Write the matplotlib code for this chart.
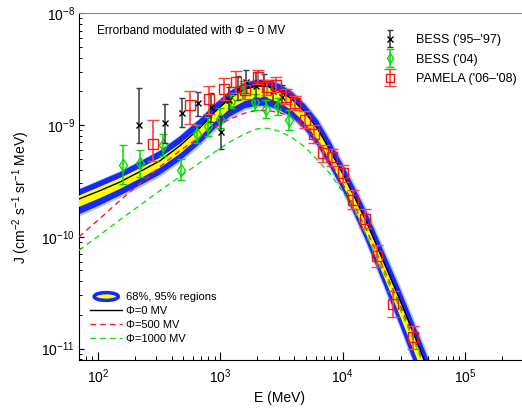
import matplotlib
matplotlib.use("Agg")
import matplotlib.pyplot as plt
from matplotlib.patches import Ellipse
from matplotlib.lines import Line2D
from matplotlib.ticker import NullFormatter
from matplotlib.legend_handler import HandlerPatch, HandlerErrorbar
from matplotlib.container import ErrorbarContainer

plt.rcParams['font.family'] = ['Liberation Sans', 'DejaVu Sans']
plt.rcParams['mathtext.default'] = 'regular'

# model curves
E_model = [70, 104, 151, 220, 321, 467, 680, 902, 1196, 1585, 1986, 2443, 3061, 3837,
           4897, 6250, 7830, 10000, 12530, 15700, 21200, 29200, 38700, 51300]
J_phi0 = [2.18e-10, 2.59e-10, 3.09e-10, 3.83e-10, 4.79e-10, 6.52e-10, 9.42e-10, 1.31e-9,
          1.74e-9, 2.10e-9, 2.25e-9, 2.23e-9, 2.01e-9, 1.71e-9, 1.31e-9, 9.23e-10,
          6.01e-10, 3.67e-10, 2.25e-10, 1.35e-10, 6.30e-11, 2.78e-11, 1.30e-11, 5.98e-12]
band95_hi = [2.65e-10, 3.18e-10, 3.79e-10, 4.70e-10, 5.88e-10, 7.92e-10, 1.13e-9, 1.54e-9,
             2.01e-9, 2.38e-9, 2.54e-9, 2.52e-9, 2.32e-9, 1.99e-9, 1.54e-9, 1.11e-9,
             7.30e-10, 4.47e-10, 2.76e-10, 1.66e-10, 7.81e-11, 3.48e-11, 1.63e-11, 7.49e-12]
band68_hi = [2.34e-10, 2.81e-10, 3.35e-10, 4.11e-10, 5.09e-10, 6.79e-10, 9.62e-10, 1.31e-9,
             1.72e-9, 2.06e-9, 2.20e-9, 2.18e-9, 1.99e-9, 1.71e-9, 1.31e-9, 9.23e-10,
             6.01e-10, 3.67e-10, 2.23e-10, 1.32e-10, 6.11e-11, 2.67e-11, 1.25e-11, 5.74e-12]
band68_lo = [1.85e-10, 2.22e-10, 2.68e-10, 3.32e-10, 4.15e-10, 5.53e-10, 7.84e-10, 1.07e-9,
             1.39e-9, 1.64e-9, 1.76e-9, 1.74e-9, 1.59e-9, 1.36e-9, 1.05e-9, 7.37e-10,
             4.80e-10, 2.93e-10, 1.76e-10, 1.03e-10, 4.68e-11, 2.00e-11, 9.18e-12, 4.22e-12]
band95_lo = [1.59e-10, 1.92e-10, 2.34e-10, 2.88e-10, 3.60e-10, 4.79e-10, 6.79e-10, 9.25e-10,
             1.19e-9, 1.41e-9, 1.49e-9, 1.48e-9, 1.36e-9, 1.18e-9, 9.15e-10, 6.52e-10,
             4.29e-10, 2.62e-10, 1.56e-10, 8.96e-11, 3.97e-11, 1.65e-11, 7.32e-12, 3.37e-12]
J_phi500 = [1.00e-10, 1.46e-10, 2.11e-10, 2.99e-10, 4.24e-10, 5.88e-10, 7.83e-10, 9.62e-10,
            1.13e-9, 1.28e-9, 1.35e-9, 1.35e-9, 1.29e-9, 1.18e-9, 9.82e-10, 7.22e-10,
            4.79e-10, 2.99e-10, 1.87e-10, 1.14e-10, 5.46e-11, 2.51e-11, 1.20e-11, 5.51e-12]
J_phi1000 = [7.58e-11, 1.04e-10, 1.42e-10, 1.91e-10, 2.59e-10, 3.45e-10, 4.60e-10, 5.76e-10,
             7.07e-10, 8.33e-10, 9.23e-10, 9.36e-10, 8.77e-10, 7.76e-10, 6.38e-10, 4.84e-10,
             3.71e-10, 2.54e-10, 1.72e-10, 1.02e-10, 5.03e-11, 2.31e-11, 1.13e-11, 5.29e-12]

# measurements
bess97_E = [217, 352, 490, 659, 845, 1010, 1183, 1403, 1636, 1959, 2286, 2698, 3219]
bess97_J = [1.00e-9, 1.04e-9, 1.27e-9, 1.56e-9, 1.45e-9, 8.7e-10, 1.67e-9, 2.12e-9,
            2.43e-9, 2.23e-9, 2.36e-9, 2.01e-9, 1.78e-9]
bess97_hi = [2.15e-9, 1.53e-9, 1.73e-9, 1.96e-9, 1.93e-9, 1.2e-9, 2.18e-9, 2.73e-9,
             3.09e-9, 2.98e-9, 2.89e-9, 2.52e-9, 2.28e-9]
bess97_lo = [6.9e-10, 6.9e-10, 9.7e-10, 1.2e-9, 1.07e-9, 6.1e-10, 1.31e-9, 1.67e-9,
             1.92e-9, 1.74e-9, 1.79e-9, 1.61e-9, 1.45e-9]

bess04_E = [161, 219, 338, 480, 643, 786, 996, 1225, 1527, 1914, 2383, 2944, 3654]
bess04_J = [4.37e-10, 4.53e-10, 6.65e-10, 3.99e-10, 8.34e-10, 9.8e-10, 1.14e-9, 1.62e-9,
            2.01e-9, 1.61e-9, 1.38e-9, 1.47e-9, 1.10e-9]
bess04_hi = [6.65e-10, 6.0e-10, 8.3e-10, 4.97e-10, 1.0e-9, 1.18e-9, 1.42e-9, 1.85e-9,
             2.4e-9, 1.9e-9, 1.67e-9, 1.74e-9, 1.37e-9]
bess04_lo = [2.99e-10, 3.45e-10, 5.24e-10, 3.2e-10, 6.9e-10, 8.0e-10, 9.4e-10, 1.41e-9,
             1.7e-9, 1.37e-9, 1.16e-9, 1.23e-9, 9.0e-10]

pamela_E = [280, 563, 809, 1062, 1333, 1592, 2015, 2399, 2878, 3445, 4110, 4900, 5850,
            6930, 8210, 10000, 12140, 15130, 19200, 25750, 37250]
pamela_J = [6.75e-10, 1.52e-9, 1.71e-9, 2.12e-9, 2.43e-9, 2.08e-9, 2.70e-9, 2.17e-9,
            2.29e-9, 1.80e-9, 1.58e-9, 1.11e-9, 8.3e-10, 5.57e-10, 5.15e-10, 3.71e-10,
            2.13e-10, 1.45e-10, 6.75e-11, 2.51e-11, 1.28e-11]
pamela_hi = [1.11e-9, 2.02e-9, 2.23e-9, 2.61e-9, 3.03e-9, 2.5e-9, 3.13e-9, 2.52e-9,
             2.68e-9, 2.1e-9, 1.82e-9, 1.34e-9, 1.0e-9, 6.65e-10, 6.1e-10, 4.4e-10,
             2.6e-10, 1.77e-10, 8.5e-11, 3.3e-11, 1.6e-11]
pamela_lo = [4.8e-10, 1.02e-9, 1.26e-9, 1.67e-9, 1.92e-9, 1.7e-9, 2.32e-9, 1.86e-9,
             1.97e-9, 1.54e-9, 1.37e-9, 9.4e-10, 6.9e-10, 4.7e-10, 4.3e-10, 3.1e-10,
             1.77e-10, 1.19e-10, 5.4e-11, 1.9e-11, 1.0e-11]


def yerr(J, lo, hi):
    return [[j - l for j, l in zip(J, lo)], [h - j for j, h in zip(J, hi)]]


class HandlerEllipse(HandlerPatch):
    def create_artists(self, legend, orig_handle, xdescent, ydescent, width, height, fontsize, trans):
        center = (0.5 * width - 0.5 * xdescent, 0.5 * height - 0.5 * ydescent)
        p = Ellipse(xy=center, width=width * 0.75, height=height * 1.0)
        self.update_prop(p, orig_handle, legend)
        p.set_transform(trans)
        return [p]


BLUE = '#1428ff'
fig = plt.figure(figsize=(5.22, 4.11), dpi=100)
ax = fig.add_axes([79 / 522, 51 / 411, 444.4 / 522, 346.7 / 411])

# error bands
ax.fill_between(E_model, band95_lo, band95_hi, facecolor='#b4c2ff', edgecolor='#b4c2ff', linewidth=2.0, zorder=1)
ax.fill_between(E_model, band95_lo, band95_hi, facecolor=BLUE, linewidth=0, zorder=2)
ax.fill_between(E_model, band68_lo, band68_hi, facecolor='#ffff00', linewidth=0, zorder=3)

ax.plot(E_model, J_phi0, color='black', lw=1.0, zorder=4)
ax.plot(E_model, J_phi500, color='#ff1a1a', lw=1.0, ls=(0, (4, 3)), zorder=4)
ax.plot(E_model, J_phi1000, color='#11e011', lw=1.0, ls=(0, (4, 3)), zorder=4)

# data
h1 = ax.errorbar(bess97_E, bess97_J, yerr=yerr(bess97_J, bess97_lo, bess97_hi), fmt='x', ms=5,
                 color='black', mew=1.0, ecolor='#3a3a3a', elinewidth=1.1, capsize=2.0, zorder=6,
                 label="BESS ('95\u2013'97)")
h2 = ax.errorbar(bess04_E, bess04_J, yerr=yerr(bess04_J, bess04_lo, bess04_hi), fmt='d', ms=6.5,
                 mfc='none', mec='#00dd00', mew=1.0, ecolor='#00dd00', elinewidth=1.1, capsize=3.0,
                 zorder=5, label="BESS ('04)")
h3 = ax.errorbar(pamela_E, pamela_J, yerr=yerr(pamela_J, pamela_lo, pamela_hi), fmt='s', ms=6.5,
                 mfc='none', mec='#ff1010', mew=1.0, ecolor='#ff4040', elinewidth=1.2, capsize=4.0,
                 zorder=7, label="PAMELA ('06\u2013'08)")

ax.set_xscale('log')
ax.set_yscale('log')
ax.set_xlim(70, 3e5)
ax.set_ylim(7.9e-12, 1e-8)
ax.xaxis.set_minor_formatter(NullFormatter())
ax.yaxis.set_minor_formatter(NullFormatter())

for s in ['left', 'bottom']:
    ax.spines[s].set_color('black')
    ax.spines[s].set_linewidth(0.8)
ax.spines['top'].set_color('#8a8a8a')
ax.spines['top'].set_linewidth(0.8)
ax.spines['right'].set_visible(False)

ax.tick_params(axis='x', which='major', direction='in', length=5.8, width=0.8, labelsize=10, pad=5)
ax.tick_params(axis='x', which='minor', direction='in', length=2.9, width=0.7)
ax.tick_params(axis='y', which='major', direction='in', length=3.3, width=0.8, labelsize=10, pad=3)
ax.tick_params(axis='y', which='minor', direction='in', length=2.0, width=0.7)

ax.set_xlabel('E (MeV)', fontsize=10)
ax.xaxis.set_label_coords(0.452, -0.11)
ax.xaxis.label.set_va('center')
ax.set_ylabel('J (cm$^{-2}$ s$^{-1}$ sr$^{-1}$ MeV)', fontsize=10)
ax.yaxis.set_label_coords(-0.13, 0.47)
ax.yaxis.label.set_va('center')

ax.text(0.041, 0.948, 'Errorband modulated with \u03a6 = 0 MV', transform=ax.transAxes,
        fontsize=8.5, ha='left', va='center')

leg1 = ax.legend(handles=[h1, h2, h3], loc='upper left', bbox_to_anchor=(0.686, 0.94),
                 frameon=False, fontsize=9, numpoints=1, markerscale=0.8, handlelength=1.0,
                 handletextpad=1.6, labelspacing=0.6, borderpad=0, borderaxespad=0,
                 handler_map={ErrorbarContainer: HandlerErrorbar(yerr_size=0.7)})
ax.add_artist(leg1)

band_handle = Ellipse((0, 0), 1, 1, facecolor='#ffff00', edgecolor=BLUE, linewidth=2.5)
handles2 = [band_handle,
            Line2D([], [], color='black', lw=1.0),
            Line2D([], [], color='#ff1a1a', lw=1.0, ls=(0, (4, 3))),
            Line2D([], [], color='#11e011', lw=1.0, ls=(0, (4, 3)))]
labels2 = ['68%, 95% regions', '\u03a6=0 MV', '\u03a6=500 MV', '\u03a6=1000 MV']
ax.legend(handles2, labels2, loc='upper left', bbox_to_anchor=(0.025, 0.195), frameon=False,
          fontsize=8, handlelength=2.9, handletextpad=0.35, labelspacing=0.35, borderpad=0,
          borderaxespad=0, handler_map={Ellipse: HandlerEllipse()})

fig.savefig('out.png', dpi=100, facecolor='white')
